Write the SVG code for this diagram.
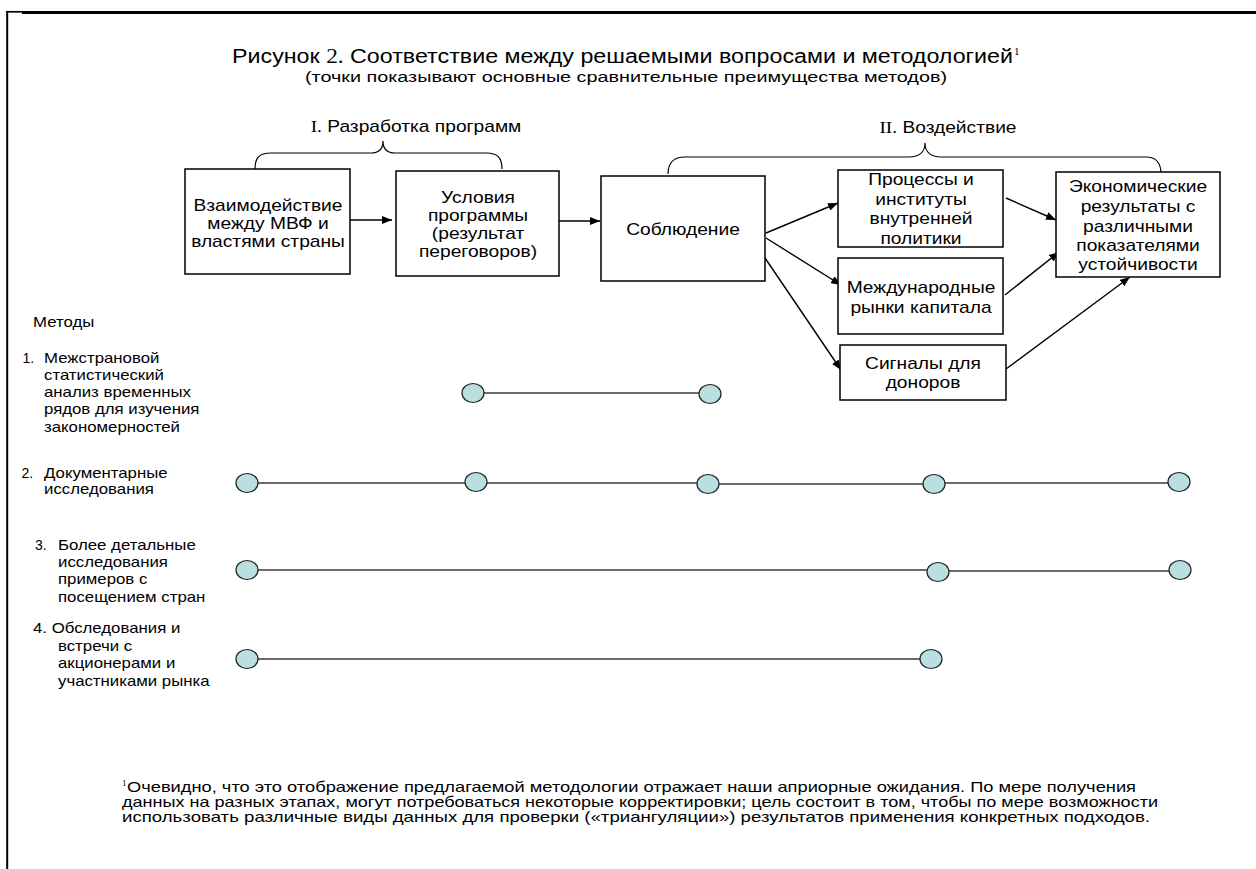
<svg xmlns="http://www.w3.org/2000/svg" width="1256" height="869" viewBox="0 0 1256 869">
<style>
.box{fill:#fff;stroke:#000;stroke-width:1.5}
.t{font-family:"Liberation Sans",Arial,sans-serif;font-size:16px;fill:#000;text-anchor:middle}
.s{font-family:"Liberation Serif","Times New Roman",serif}
.m{font-family:"Liberation Sans",Arial,sans-serif;font-size:14px;fill:#000}
.conn{stroke:#000;stroke-width:1.4;fill:none;marker-end:url(#ah)}
.brace{stroke:#000;stroke-width:1.2;fill:none}
.dot{fill:#b9dfe1;stroke:#222;stroke-width:1.2}
.rl{stroke:#3a3a3a;stroke-width:1.5}
.fn{font-family:"Liberation Sans",Arial,sans-serif;font-size:14.5px;fill:#000}
</style>
<defs>
<marker id="ah" markerUnits="userSpaceOnUse" markerWidth="10" markerHeight="8" refX="10" refY="4" orient="auto"><path d="M0,0 L10,4 L0,8 z" fill="#000"/></marker>
</defs>
<rect width="1256" height="869" fill="#fff"/>
<g id="frame" stroke="#000">
<line x1="6" y1="11.8" x2="22" y2="11.8" stroke-width="1.7"/>
<line x1="22" y1="12.5" x2="1256" y2="12.5" stroke-width="3"/>
<line x1="7.2" y1="11" x2="7.2" y2="869" stroke-width="2"/>
</g>
<g id="title">
<text class="t" x="232" y="63" style="font-size:20px;text-anchor:start" textLength="781" lengthAdjust="spacingAndGlyphs">Рисунок <tspan class="s">2.</tspan> Соответствие между решаемыми вопросами и методологией</text>
<text class="s" x="1014" y="55" font-size="11">1</text>
<text class="t" x="305" y="82" style="font-size:15.5px;text-anchor:start" textLength="642" lengthAdjust="spacingAndGlyphs">(точки показывают основные сравнительные преимущества методов)</text>
</g>
<g id="phase1">
<path class="brace" d="M255,169 C255,158 259,153 271,153 L371,153 C379,153 383,149 383,141 C383,149 387,153 395,153 L486,153 C498,153 502,158 502,169"/>
<text class="t" transform="translate(416 0) scale(1.2 1)" y="132"><tspan class="s">I.</tspan> Разработка программ</text>
</g>
<g id="phase2">
<path class="brace" d="M668,174 C668,163 673,157 685,157 L909,157 C919,157 925,152 925,143 C925,152 931,157 941,157 L1146,157 C1157,157 1161,163 1161,174"/>
<text class="t" transform="translate(948 0) scale(1.2 1)" y="133"><tspan class="s">II.</tspan> Воздействие</text>
</g>
<g id="connectors">
<line class="conn" x1="350" y1="220" x2="392" y2="220"/>
<line class="conn" x1="559" y1="221" x2="600" y2="221"/>
<line class="conn" x1="766" y1="233" x2="838" y2="203"/>
<line class="conn" x1="766" y1="238" x2="841" y2="285"/>
<line class="conn" x1="765" y1="258" x2="841" y2="370"/>
<line class="conn" x1="1006" y1="198" x2="1056" y2="220"/>
<line class="conn" x1="1005" y1="295" x2="1059" y2="252"/>
<line class="conn" x1="1006" y1="369" x2="1130" y2="277"/>
</g>
<g id="n-interaction">
<rect class="box" x="185" y="169" width="165" height="105"/>
<text class="t" transform="translate(268 0) scale(1.2 1)"><tspan x="0" y="211">Взаимодействие</tspan><tspan x="0" y="229">между МВФ и</tspan><tspan x="0" y="247">властями страны</tspan></text>
</g>
<g id="n-conditions">
<rect class="box" x="396" y="171" width="163" height="105"/>
<text class="t" transform="translate(478 0) scale(1.2 1)"><tspan x="0" y="203">Условия</tspan><tspan x="0" y="221">программы</tspan><tspan x="0" y="239">(результат</tspan><tspan x="0" y="257">переговоров)</tspan></text>
</g>
<g id="n-compliance">
<rect class="box" x="601" y="176" width="164" height="105"/>
<text class="t" transform="translate(683 0) scale(1.2 1)" y="235">Соблюдение</text>
</g>
<g id="n-processes">
<rect class="box" x="838" y="170" width="165" height="77"/>
<text class="t" transform="translate(921 0) scale(1.2 1)"><tspan x="0" y="185">Процессы и</tspan><tspan x="0" y="205">институты</tspan><tspan x="0" y="224">внутренней</tspan><tspan x="0" y="244">политики</tspan></text>
</g>
<g id="n-markets">
<rect class="box" x="838" y="258" width="165" height="76"/>
<text class="t" transform="translate(921 0) scale(1.2 1)"><tspan x="0" y="293">Международные</tspan><tspan x="0" y="313">рынки капитала</tspan></text>
</g>
<g id="n-signals">
<rect class="box" x="840" y="345" width="166" height="55"/>
<text class="t" transform="translate(923 0) scale(1.2 1)"><tspan x="0" y="369">Сигналы для</tspan><tspan x="0" y="388">доноров</tspan></text>
</g>
<g id="n-results">
<rect class="box" x="1056" y="172" width="164" height="105"/>
<text class="t" transform="translate(1138 0) scale(1.2 1)"><tspan x="0" y="192">Экономические</tspan><tspan x="0" y="212">результаты с</tspan><tspan x="0" y="232">различными</tspan><tspan x="0" y="251">показателями</tspan><tspan x="0" y="270">устойчивости</tspan></text>
</g>
<g id="methods">
<text class="m" transform="translate(33 0) scale(1.2 1)" y="327" font-size="15">Методы</text>
<text class="m s" x="22.5" y="363" font-size="13">1.</text>
<text class="m" transform="translate(44 0) scale(1.2 1)"><tspan x="0" y="363">Межстрановой</tspan><tspan x="0" y="380">статистический</tspan><tspan x="0" y="397">анализ временных</tspan><tspan x="0" y="414">рядов для изучения</tspan><tspan x="0" y="432">закономерностей</tspan></text>
<text class="m s" x="21.5" y="478" font-size="13">2.</text>
<text class="m" transform="translate(44 0) scale(1.2 1)"><tspan x="0" y="478">Документарные</tspan><tspan x="0" y="494">исследования</tspan></text>
<text class="m s" x="35" y="550" font-size="13">3.</text>
<text class="m" transform="translate(58 0) scale(1.2 1)"><tspan x="0" y="550">Более детальные</tspan><tspan x="0" y="567">исследования</tspan><tspan x="0" y="584">примеров с</tspan><tspan x="0" y="602">посещением стран</tspan></text>
<text class="m" transform="translate(33 0) scale(1.2 1)" y="633">4. Обследования и</text>
<text class="m" transform="translate(58 0) scale(1.2 1)"><tspan x="0" y="651">встречи с</tspan><tspan x="0" y="668">акционерами и</tspan><tspan x="0" y="686">участниками рынка</tspan></text>
</g>
<g id="row1">
<line class="rl" x1="473" y1="393" x2="710" y2="393"/>
<ellipse class="dot" cx="473" cy="393" rx="11" ry="9.5"/>
<ellipse class="dot" cx="710" cy="394" rx="11" ry="9.5"/>
</g>
<g id="row2">
<line class="rl" x1="247" y1="483" x2="476" y2="483"/>
<line class="rl" x1="476" y1="483" x2="708" y2="483"/>
<line class="rl" x1="708" y1="484" x2="934" y2="484"/>
<line class="rl" x1="934" y1="483" x2="1179" y2="483"/>
<ellipse class="dot" cx="247" cy="483" rx="11" ry="9.5"/>
<ellipse class="dot" cx="476" cy="482" rx="11" ry="9.5"/>
<ellipse class="dot" cx="708" cy="484" rx="11" ry="9.5"/>
<ellipse class="dot" cx="934" cy="484" rx="11" ry="9.5"/>
<ellipse class="dot" cx="1179" cy="482" rx="11" ry="9.5"/>
</g>
<g id="row3">
<line class="rl" x1="247" y1="570" x2="938" y2="570"/>
<line class="rl" x1="938" y1="571" x2="1180" y2="571"/>
<ellipse class="dot" cx="247" cy="570" rx="11" ry="9.5"/>
<ellipse class="dot" cx="938" cy="572" rx="11" ry="9.5"/>
<ellipse class="dot" cx="1180" cy="570" rx="11" ry="9.5"/>
</g>
<g id="row4">
<line class="rl" x1="247" y1="659" x2="931" y2="659"/>
<ellipse class="dot" cx="247" cy="659" rx="11" ry="9.5"/>
<ellipse class="dot" cx="931" cy="659" rx="11" ry="9.5"/>
</g>
<g id="footnote">
<text class="s" x="122" y="786" font-size="9">1</text>
<text class="fn" x="127" y="792" textLength="1009" lengthAdjust="spacingAndGlyphs">Очевидно, что это отображение предлагаемой методологии отражает наши априорные ожидания. По мере получения</text>
<text class="fn" x="122" y="807" textLength="1036" lengthAdjust="spacingAndGlyphs">данных на разных этапах, могут потребоваться некоторые корректировки; цель состоит в том, чтобы по мере возможности</text>
<text class="fn" x="122" y="822" textLength="1028" lengthAdjust="spacingAndGlyphs">использовать различные виды данных для проверки («триангуляции») результатов применения конкретных подходов.</text>
</g>
</svg>
